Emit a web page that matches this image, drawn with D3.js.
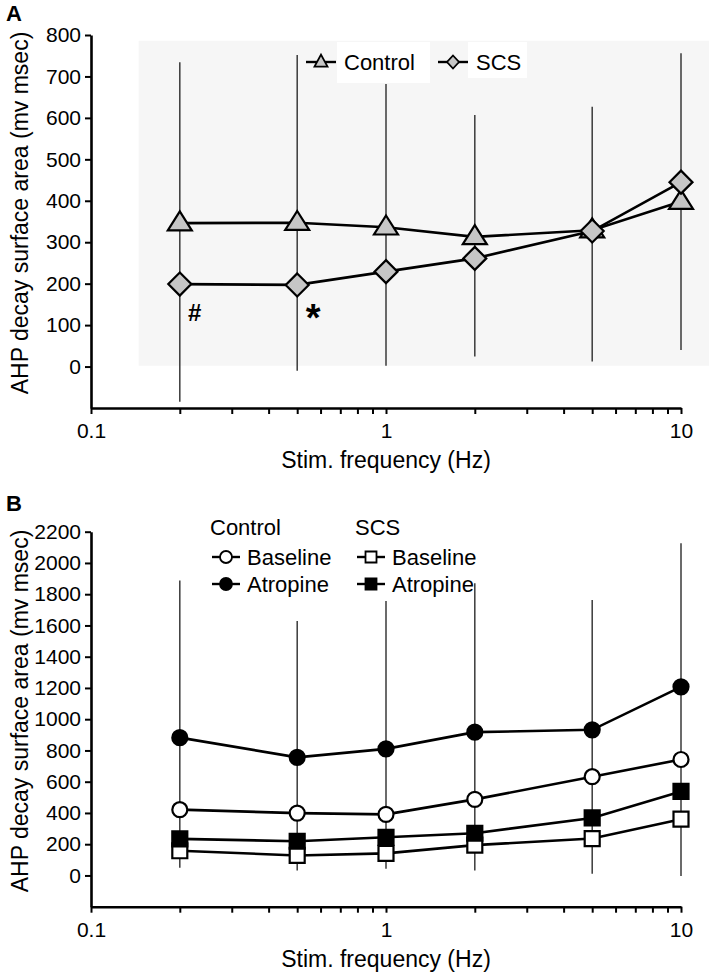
<!DOCTYPE html>
<html>
<head>
<meta charset="utf-8">
<script src="https://cdn.jsdelivr.net/npm/d3@7/dist/d3.min.js"></script>
<style>
  html, body { margin: 0; padding: 0; background: #fff; }
  svg { display: block; font-family: "Liberation Sans", Arial, Helvetica, sans-serif; }
</style>
</head>
<body>
<svg id="chart" width="709" height="972"></svg>
<script>
// ---------------- DATA ----------------
const freqs = [0.2, 0.5, 1, 2, 5, 10];
const xTickValues = [0.1,0.2,0.3,0.4,0.5,0.6,0.7,0.8,0.9,1,2,3,4,5,6,7,8,9,10];
const xTickLabels = ["0.1", "1", "10"];

// Panel A
const aControl    = [346, 347, 336, 313, 329, 398];
const aSCS        = [199, 197, 229, 261, 327, 445];
const aErrTop     = [734, 752, 682, 607, 627, 756];
const aErrBottom  = [-85, -10, 2, 24, 12, 40];
const aYTicks     = [0, 100, 200, 300, 400, 500, 600, 700, 800];
const aSeriesNames = ["Control", "SCS"];
const aAnnotFreq  = [0.2, 0.5];
const aAnnotText  = ["#", "*"];

// Panel B
const bCtrlBaseline = [421, 399, 391, 487, 632, 742];
const bCtrlAtropine = [882, 756, 810, 917, 932, 1207];
const bSCSBaseline  = [158, 128, 141, 194, 236, 360];
const bSCSAtropine  = [234, 219, 244, 270, 368, 538];
const bErrTop       = [1887, 1628, 1756, 1870, 1763, 2126];
const bErrBottom    = [49, 32, 43, 32, 11, -4];
const bYTicks       = [0, 200, 400, 600, 800, 1000, 1200, 1400, 1600, 1800, 2000, 2200];
const bGroupNames   = ["Control", "SCS"];
const bCondNames    = ["Baseline", "Atropine"];

const xTitle = "Stim. frequency (Hz)";
const yTitle = "AHP decay surface area (mv msec)";

// ---------------- DRAW ----------------
const svg = d3.select("#chart");
const FONT_TICK = 21, FONT_TITLE = 23, FONT_LEG = 22;

const x = d3.scaleLog().domain([0.1, 10]).range([91, 681]);

function drawAxes(g, y, yTicks, xAxisY, yTitleCenter) {
  const xAxis = d3.axisBottom(x)
    .tickValues(xTickValues)
    .tickSize(6)
    .tickSizeOuter(0)
    .tickPadding(9)
    .tickFormat(d => xTickLabels.includes(String(d)) ? String(d) : "");
  const gx = g.append("g").attr("transform", `translate(0,${xAxisY})`).call(xAxis);
  gx.select(".domain").attr("stroke", "#000").attr("stroke-width", 2.6);
  gx.selectAll(".tick line").attr("stroke", "#000").attr("stroke-width", 2);
  gx.selectAll(".tick text").attr("font-size", FONT_TICK).attr("font-family", "Liberation Sans, Arial, sans-serif").attr("fill", "#000");

  const yAxis = d3.axisLeft(y).tickValues(yTicks).tickFormat(d3.format("d"))
    .tickSize(6).tickSizeOuter(0).tickPadding(4);
  const gy = g.append("g").attr("transform", `translate(${x.range()[0]},0)`).call(yAxis);
  gy.select(".domain").attr("stroke", "#000").attr("stroke-width", 2.6);
  gy.selectAll(".tick line").attr("stroke", "#000").attr("stroke-width", 2);
  gy.selectAll(".tick text").attr("font-size", FONT_TICK).attr("font-family", "Liberation Sans, Arial, sans-serif").attr("fill", "#000");

  g.append("text")
    .attr("x", d3.mean(x.range())).attr("y", xAxisY + 52)
    .attr("text-anchor", "middle").attr("dy", "0.35em")
    .attr("font-size", FONT_TITLE).text(xTitle);

  g.append("text")
    .attr("transform", `translate(20,${yTitleCenter}) rotate(-90)`)
    .attr("text-anchor", "middle").attr("dy", "0.35em")
    .attr("font-size", FONT_TITLE).text(yTitle);
}

function triPath(w, h) {
  return `M0,${-h*0.62}L${w/2},${h*0.38}L${-w/2},${h*0.38}Z`;
}
function diaPath(w, h) {
  return `M0,${-h/2}L${w/2},0L0,${h/2}L${-w/2},0Z`;
}
function sqPath(s) {
  return `M${-s/2},${-s/2}H${s/2}V${s/2}H${-s/2}Z`;
}

// ===== Panel A =====
{
  const g = svg.append("g");
  const y = d3.scaleLinear().domain([-100, 800]).range([408, 35]);

  // shaded plot background
  g.append("rect")
    .attr("x", x(0.145)).attr("y", y(786))
    .attr("width", 709 - x(0.145)).attr("height", y(2) - y(786))
    .attr("fill", "#f6f6f6");

  // error bars
  g.selectAll(".errA").data(freqs).join("line")
    .attr("x1", d => x(d)).attr("x2", d => x(d))
    .attr("y1", (d, i) => y(aErrTop[i])).attr("y2", (d, i) => y(aErrBottom[i]))
    .attr("stroke", "#3a3a3a").attr("stroke-width", 1.5);

  const line = d3.line().x(d => x(d[0])).y(d => y(d[1]));
  [aControl, aSCS].forEach(vals => {
    g.append("path").datum(freqs.map((f, i) => [f, vals[i]]))
      .attr("d", line).attr("fill", "none").attr("stroke", "#000").attr("stroke-width", 2.6);
  });

  g.selectAll(".triA").data(freqs).join("path")
    .attr("transform", (d, i) => `translate(${x(d)},${y(aControl[i])})`)
    .attr("d", triPath(24, 19))
    .attr("fill", "#c6c6c6").attr("stroke", "#000").attr("stroke-width", 2.2).attr("stroke-linejoin", "miter");
  g.selectAll(".diaA").data(freqs).join("path")
    .attr("transform", (d, i) => `translate(${x(d)},${y(aSCS[i])})`)
    .attr("d", diaPath(23, 23))
    .attr("fill", "#c6c6c6").attr("stroke", "#000").attr("stroke-width", 2.2);

  // annotations
  g.selectAll(".annA").data(aAnnotFreq).join("text")
    .attr("x", (d, i) => x(d) + (i === 0 ? 15 : 16))
    .attr("y", (d, i) => y(aAnnotText[i] === "*" ? 118 : 130))
    .attr("text-anchor", "middle").attr("dy", "0.35em")
    .attr("font-weight", "bold")
    .attr("font-size", (d, i) => aAnnotText[i] === "*" ? 38 : 24)
    .text((d, i) => aAnnotText[i]);

  // legend
  const legY = 62;
  g.append("rect").attr("x", 337).attr("y", 42).attr("width", 93).attr("height", 41).attr("fill", "#fff");
  g.append("rect").attr("x", 468).attr("y", 42).attr("width", 59).attr("height", 36).attr("fill", "#fff");
  const legItems = [
    { x0: 306, name: aSeriesNames[0], shape: triPath(13, 12) },
    { x0: 438, name: aSeriesNames[1], shape: diaPath(12, 13) }
  ];
  legItems.forEach(it => {
    g.append("line").attr("x1", it.x0).attr("x2", it.x0 + 30).attr("y1", legY).attr("y2", legY)
      .attr("stroke", "#000").attr("stroke-width", 2.4);
    g.append("path").attr("transform", `translate(${it.x0 + 15},${legY})`).attr("d", it.shape)
      .attr("fill", "#c6c6c6").attr("stroke", "#000").attr("stroke-width", 1.8);
    g.append("text").attr("x", it.x0 + 38).attr("y", legY).attr("dy", "0.35em")
      .attr("font-size", FONT_LEG).text(it.name);
  });

  drawAxes(g, y, aYTicks, 408, 213);

  g.append("text").attr("x", 6).attr("y", 13).attr("dy", "0.35em")
    .attr("font-size", 22).attr("font-weight", "bold").text("A");
}

// ===== Panel B =====
{
  const g = svg.append("g");
  const y = d3.scaleLinear().domain([-200, 2200]).range([906.7, 531.7]);

  g.selectAll(".errB").data(freqs).join("line")
    .attr("x1", d => x(d)).attr("x2", d => x(d))
    .attr("y1", (d, i) => y(bErrTop[i])).attr("y2", (d, i) => y(bErrBottom[i]))
    .attr("stroke", "#3a3a3a").attr("stroke-width", 1.5);

  const line = d3.line().x(d => x(d[0])).y(d => y(d[1]));
  const series = [
    { vals: bSCSBaseline, shape: "sq", fill: "#fff" },
    { vals: bSCSAtropine, shape: "sq", fill: "#000" },
    { vals: bCtrlBaseline, shape: "ci", fill: "#fff" },
    { vals: bCtrlAtropine, shape: "ci", fill: "#000" }
  ];
  series.forEach(s => {
    g.append("path").datum(freqs.map((f, i) => [f, s.vals[i]]))
      .attr("d", line).attr("fill", "none").attr("stroke", "#000").attr("stroke-width", 2.6);
  });
  series.forEach(s => {
    const sel = g.append("g").selectAll("path").data(freqs).join("path")
      .attr("transform", (d, i) => `translate(${x(d)},${y(s.vals[i])})`)
      .attr("fill", s.fill).attr("stroke", "#000").attr("stroke-width", 2.2);
    if (s.shape === "sq") sel.attr("d", sqPath(15));
    else sel.attr("d", d3.symbol(d3.symbolCircle, Math.PI * 7.5 * 7.5)());
  });

  // legend
  const headY = 527, rowY = [557, 584];
  g.append("text").attr("x", 210).attr("y", headY).attr("dy", "0.35em").attr("font-size", FONT_LEG).text(bGroupNames[0]);
  g.append("text").attr("x", 355).attr("y", headY).attr("dy", "0.35em").attr("font-size", FONT_LEG).text(bGroupNames[1]);
  const legCols = [{ x0: 212, shape: "ci" }, { x0: 357, shape: "sq" }];
  legCols.forEach(c => {
    rowY.forEach((ry, r) => {
      g.append("line").attr("x1", c.x0).attr("x2", c.x0 + 28).attr("y1", ry).attr("y2", ry)
        .attr("stroke", "#000").attr("stroke-width", 2.4);
      const p = g.append("path").attr("transform", `translate(${c.x0 + 14},${ry})`)
        .attr("fill", r === 0 ? "#fff" : "#000").attr("stroke", "#000").attr("stroke-width", 1.8);
      if (c.shape === "sq") p.attr("d", sqPath(11));
      else p.attr("d", d3.symbol(d3.symbolCircle, Math.PI * 6 * 6)());
      g.append("text").attr("x", c.x0 + 35).attr("y", ry).attr("dy", "0.35em")
        .attr("font-size", FONT_LEG).text(bCondNames[r]);
    });
  });

  drawAxes(g, y, bYTicks, 906.7, 711);

  g.append("text").attr("x", 6).attr("y", 503).attr("dy", "0.35em")
    .attr("font-size", 22).attr("font-weight", "bold").text("B");
}
</script>
</body>
</html>
